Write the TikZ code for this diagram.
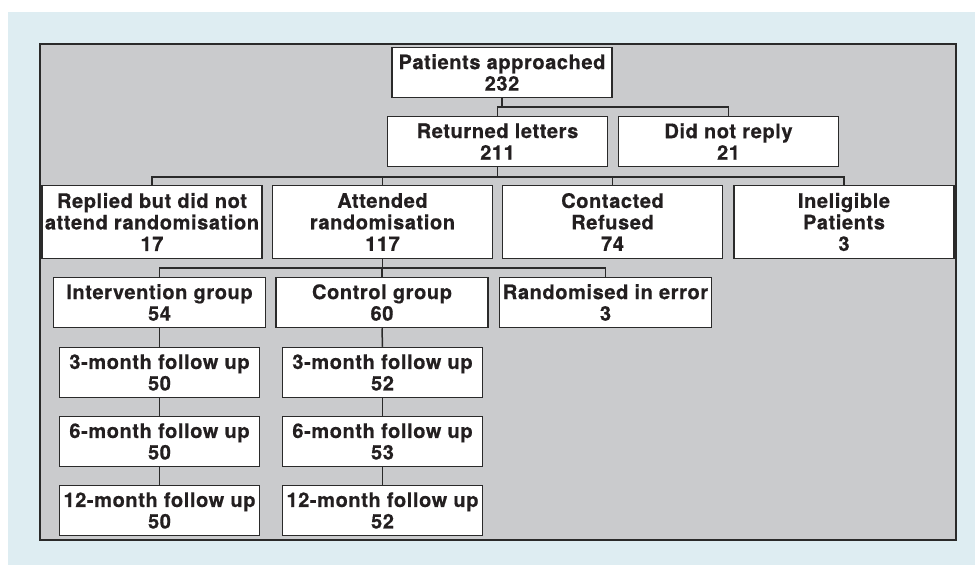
\documentclass[tikz,border=0pt]{standalone}
\usepackage{fontspec}
\setmainfont{TeX Gyre Heros}
\newfontfamily\boxfont[LetterSpace=3,FakeBold=0.6]{TeX Gyre Heros Bold}
\definecolor{bgblue}{HTML}{DEEDF2}
\definecolor{panel}{HTML}{CACBCD}
\definecolor{linec}{HTML}{2A2A2A}
\definecolor{textc}{HTML}{231F20}
\begin{document}
\begin{tikzpicture}[x=1pt,y=-1pt,
  box/.style={draw=linec, line width=1.5pt, fill=white, align=center, inner sep=0pt,
    font=\boxfont\fontsize{20}{21.5}\selectfont, text=textc},
  wbox/.style={box, minimum width=220pt, minimum height=50pt},
  tbox/.style={box, minimum width=220pt, minimum height=73pt},
  gbox/.style={box, minimum width=212pt, minimum height=50pt},
  fbox/.style={box, minimum width=200pt, minimum height=50pt},
  conn/.style={draw=linec, line width=1.5pt}]
\useasboundingbox (0,0) rectangle (975,565);
\fill[white] (0,0) rectangle (975,565);
\fill[bgblue] (8,12) rectangle (975,565);
\draw[fill=panel, draw=linec, line width=1.2pt] (40,44) rectangle (956,540);

\node[wbox] (P) at (502,72.5) {Patients approached\\232};
\node[wbox] (R) at (497.5,141.5) {Returned letters\\211};
\node[wbox] (D) at (728.5,141.5) {Did not reply\\21};

\node[tbox] (Rep) at (152,222) {Replied but did not\\attend randomisation\\17};
\node[tbox] (Att) at (382.5,222) {Attended\\randomisation\\117};
\node[tbox] (Con) at (612.5,222) {Contacted\\Refused\\74};
\node[tbox] (Ine) at (844,222) {Ineligible\\Patients\\3};

\node[gbox] (Int) at (159.5,302.5) {Intervention group\\54};
\node[gbox] (Ctl) at (382,302.5) {Control group\\60};
\node[gbox] (Rnd) at (605.5,302.5) {Randomised in error\\3};

\node[fbox] (I3) at (159.5,372.5) {3-month follow up\\50};
\node[fbox] (I6) at (159.5,441.5) {6-month follow up\\50};
\node[fbox] (I12) at (159.5,510.5) {12-month follow up\\50};
\node[fbox] (C3) at (382.5,372.5) {3-month follow up\\52};
\node[fbox] (C6) at (382.5,441.5) {6-month follow up\\53};
\node[fbox] (C12) at (382.5,510.5) {12-month follow up\\52};

\coordinate (j1) at (502,107);
\coordinate (j2) at (497.5,177);
\coordinate (j3) at (382.5,268);

\draw[conn] (P.south) -- (j1);
\draw[conn] (R.north) |- (j1);
\draw[conn] (D.north) |- (j1);

\draw[conn] (R.south) -- (j2);
\draw[conn] (Rep.north) |- (j2);
\draw[conn] (Att.north) |- (j2);
\draw[conn] (Con.north) |- (j2);
\draw[conn] (Ine.north) |- (j2);

\draw[conn] (Att.south) -- (j3);
\draw[conn] (Int.north) |- (j3);
\draw[conn] (Ctl.north) |- (j3);
\draw[conn] (Rnd.north) |- (j3);

\draw[conn] (Int.south) -- (I3.north);
\draw[conn] (I3.south) -- (I6.north);
\draw[conn] (I6.south) -- (I12.north);
\draw[conn] (Ctl.south) -- (C3.north);
\draw[conn] (C3.south) -- (C6.north);
\draw[conn] (C6.south) -- (C12.north);
\end{tikzpicture}
\end{document}
